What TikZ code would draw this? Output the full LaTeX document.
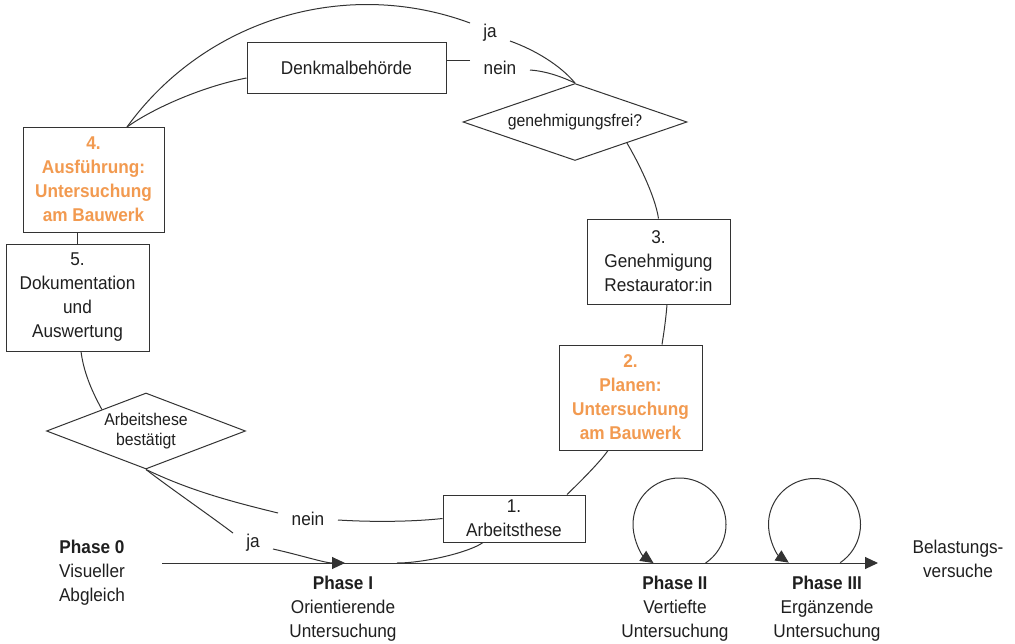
\documentclass[tikz,border=0pt]{standalone}
\usepackage{fontspec}
\setmainfont{Liberation Sans}[FakeStretch=0.93]
\usetikzlibrary{arrows.meta,shapes.geometric}
\definecolor{lc}{HTML}{333333}
\definecolor{orng}{HTML}{F29A50}
\begin{document}
\begin{tikzpicture}[x=1pt,y=-1pt,
  every node/.style={font=\fontsize{18.5}{24}\selectfont, text=black!88, inner sep=0pt},
  box/.style={draw=lc, line width=1pt, align=center},
  obox/.style={box, text=orng, font=\fontsize{18.5}{24}\selectfont\bfseries},
  dia/.style={draw=lc, line width=1pt, shape=diamond, align=center, font=\fontsize{17}{20}\selectfont},
  lbl/.style={anchor=base},
  plabel/.style={anchor=north, align=center},
  conn/.style={draw=lc, line width=1pt},
  tip/.style={-{Triangle[length=13pt,width=12pt]}},
]
\useasboundingbox (0,0) rectangle (1015,643);
\fill[white] (0,0) rectangle (1015,643);

% boxes
\node[box, minimum width=199pt, minimum height=51pt] (denk) at (346.5,67.5) {Denkmalbehörde};
\node[obox, minimum width=141pt, minimum height=105pt] (b4) at (93.5,179.5) {4.\\Ausführung:\\Untersuchung\\am Bauwerk};
\node[box, minimum width=143pt, minimum height=107pt] (b5) at (77.5,297.5) {5.\\Dokumentation\\und\\Auswertung};
\node[box, minimum width=143pt, minimum height=85pt] (b3) at (658.5,261.5) {3.\\Genehmigung\\Restaurator:in};
\node[obox, minimum width=143pt, minimum height=105pt] (b2) at (630.5,397.5) {2.\\Planen:\\Untersuchung\\am Bauwerk};
\node[box, minimum width=142pt, minimum height=47pt] (b1) at (514,518.5) {1.\\Arbeitsthese};

% decisions
\node[dia, minimum width=224pt, minimum height=77pt, aspect=2.9] (d1) at (575,122) {genehmigungsfrei?};
\node[dia, minimum width=199pt, minimum height=76pt, aspect=2.6] (d2) at (146,431) {Arbeitshese\\bestätigt};

% connector labels
\node[lbl] (jaT) at (490,37) {ja};
\node[lbl] (neinT) at (500,74) {nein};
\node[lbl] (neinB) at (308,525) {nein};
\node[lbl] (jaB) at (253,547) {ja};

% phase labels
\node[plabel] (ph0) at (92,540) {\textbf{Phase 0}\\Visueller\\Abgleich};
\node[plabel] (ph1) at (343,576) {\textbf{Phase I}\\Orientierende\\Untersuchung};
\node[plabel] (ph2) at (675,576) {\textbf{Phase II}\\Vertiefte\\Untersuchung};
\node[plabel] (ph3) at (827,576) {\textbf{Phase III}\\Ergänzende\\Untersuchung};
\node[plabel] (bel) at (958,540) {Belastungs-\\versuche};

% coordinates
\coordinate (b4t) at (127,127);
\coordinate (jaTl) at (470,23);
\coordinate (jaTr) at (510,41);
\coordinate (neinTl) at (470,60);
\coordinate (neinTr) at (530,70);
\coordinate (neinBl) at (278,513);
\coordinate (neinBr) at (338,520);
\coordinate (jaBl) at (233,533);
\coordinate (jaBr) at (273,549);
\coordinate (t0) at (162,563);
\coordinate (tEnd) at (878,563);
\coordinate (pI) at (345,563);
\coordinate (jn) at (397,563);
\coordinate (l2) at (679.5,524.5);
\coordinate (l3) at (814.5,524.5);

% connectors
\draw[conn] (b4t) .. controls (205,19.3) and (345.2,-23.2) .. (jaTl);
\draw[conn] (b4t) .. controls (155,107) and (205,86) .. (denk.west |- 0,78);
\draw[conn] (d1.north) .. controls (560,65) and (535,50) .. (jaTr);
\draw[conn] (d1.north) .. controls (560,76) and (545,71) .. (neinTr);
\draw[conn] (neinTl) -- (denk.east |- neinTl);
\draw[conn] (d1.-22) .. controls (637,160) and (655,195) .. (b3.north);
\draw[conn] ([xshift=8.5pt]b3.south) .. controls (666,318) and (664,332) .. ([xshift=31.5pt]b2.north);
\draw[conn] ([xshift=-22.5pt]b2.south) .. controls (600,462) and (580,482) .. ([xshift=53pt]b1.north);
\draw[conn] ([xshift=-31pt]b1.south) .. controls (470,552) and (425,563) .. (jn);
\draw[conn] (b1.west) .. controls (410,522) and (370,522) .. (neinBr);
\draw[conn] (neinBl) .. controls (233,502) and (191,491) .. (d2.south);
\draw[conn] (d2.south) .. controls (170,488) and (205,512) .. (jaBl);
\draw[conn,tip] (jaBr) .. controls (300,555) and (325,563) .. (pI);
\draw[conn] ([xshift=3.5pt]b5.south) .. controls (84,375) and (94,395) .. (d2.154);
\draw[conn] (b5.north) -- (b5.north |- b4.south);
\draw[conn,tip] (t0) -- (tEnd);
\draw[conn,tip] ([shift={(56:46.5)}]l2) arc[start angle=56,end angle=-236,radius=46.5];
\draw[conn,tip] ([shift={(56:46)}]l3) arc[start angle=56,end angle=-236,radius=46];
\end{tikzpicture}
\end{document}
